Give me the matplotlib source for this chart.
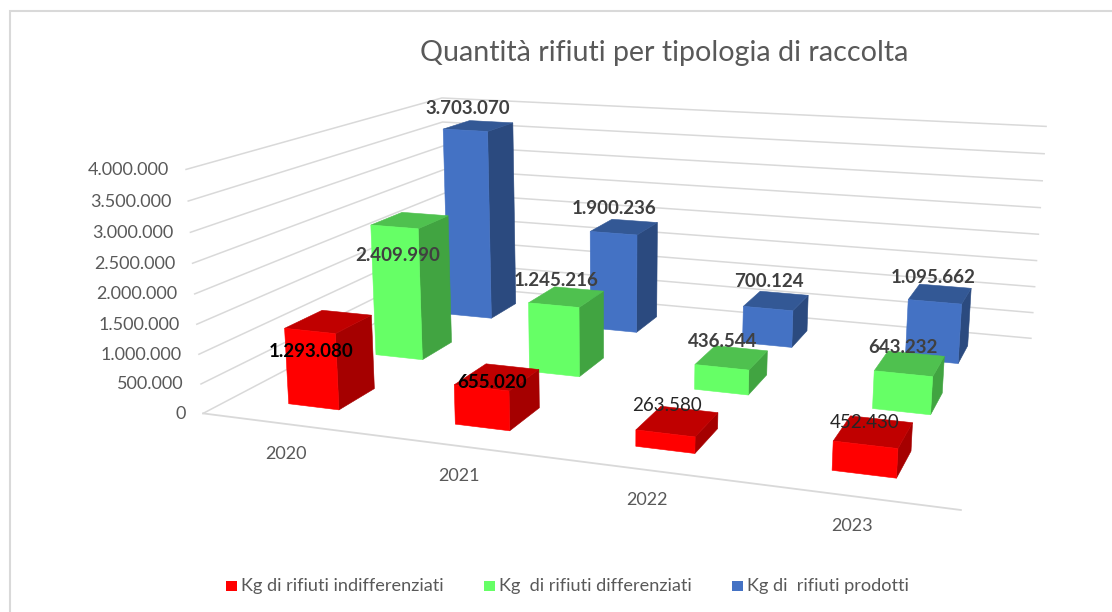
import numpy as np
import matplotlib
matplotlib.use("Agg")
import matplotlib.pyplot as plt
from matplotlib.patches import Polygon, Rectangle

plt.rcParams['font.family'] = ['Lato', 'DejaVu Sans']

# ---- data ----
categories = ['2020', '2021', '2022', '2023']
series_names = ['Kg di rifiuti indifferenziati', 'Kg  di rifiuti differenziati', 'Kg di  rifiuti prodotti']
indifferenziati = [1293080, 655020, 263580, 452430]
differenziati = [2409990, 1245216, 436544, 643232]
prodotti = [3703070, 1900236, 700124, 1095662]
value_ticks = [0, 500000, 1000000, 1500000, 2000000, 2500000, 3000000, 3500000, 4000000]
title = 'Quantità rifiuti per tipologia di raccolta'

# ---- styles ----
series_values = [indifferenziati, differenziati, prodotti]
face_colors = [('#FF0000', '#C00000', '#A50000'),
               ('#66FF66', '#4FC14F', '#41A441'),
               ('#4472C4', '#335895', '#2B4A7F')]
GRID = '#D9D9D9'
TXT = '#595959'
VMAX = 4000000
BAR_W = 0.31
BAR_D = 0.40
# label offsets from the centre of each bar top, px (series, category)
label_off = [[(-18, 30), (-5, 5), (-11, -16), (-9, -9)],
             [(-12, 35), (-10, -16), (-9, -16), (-7, -16)],
             [(-11, -17), (-10, -18), (-7, -19), (-7, -16)]]
label_style = [[('black', 'bold'), ('black', 'bold'), ('#262626', 'normal'), ('#262626', 'normal')],
               [('#404040', 'bold')] * 4,
               [('#404040', 'bold')] * 4]

# ---- perspective camera calibrated on the chart box corners ----
box = [((0, 0, 0), (203, 412)), ((1, 0, 0), (961, 511)), ((0, 1, 0), (447, 287)),
       ((1, 1, 0), (1031, 337)), ((0, 1, 1), (442, 97)), ((1, 1, 1), (1046, 127)),
       ((0, 0, 1), (186, 170))]
A, b = [], []
for (u, v, w), (x, y) in box:
    A.append([u, v, w, 1, 0, 0, 0, 0, -x * u, -x * v, -x * w]); b.append(x)
    A.append([0, 0, 0, 0, u, v, w, 1, -y * u, -y * v, -y * w]); b.append(y)
m = np.linalg.lstsq(np.array(A, float), np.array(b, float), rcond=None)[0]
M = np.append(m, 1).reshape(3, 4)


def P(u, v, w):
    q = M @ np.array([u, v, w, 1.0])
    return q[0] / q[2], q[1] / q[2]


fig = plt.figure(figsize=(11.12, 6.12), dpi=100, facecolor='white')
ax = fig.add_axes([0, 0, 1, 1])
ax.set_xlim(0, 1112)
ax.set_ylim(612, 0)
ax.axis('off')

# chart frame
ax.plot([10, 10, 1112], [612, 11, 11], color=GRID, lw=1.5, solid_joinstyle='miter')

# gridlines and value ticks
for t in value_ticks:
    w = t / VMAX
    pts = [P(0, 0, w), P(0, 1, w), P(1, 1, w)]
    ax.plot(*zip(*pts), color=GRID, lw=1.1, solid_joinstyle='miter', zorder=1)
    x, y = P(0, 0, w)
    ax.text(x - 17, y + 0.5, f'{t:,}'.replace(',', '.'), ha='right', va='center',
            fontsize=13, color=TXT)
ax.plot(*zip(P(0, 0, 0), P(1, 0, 0)), color=GRID, lw=1.3, zorder=1)

# bars, back to front
z = 2
for s in (2, 1, 0):
    v0 = (s + 0.5 - BAR_D / 2) / 3
    v1 = (s + 0.5 + BAR_D / 2) / 3
    cf, ct, cs = face_colors[s]
    for c, val in enumerate(series_values[s]):
        u0 = (c + 0.5 - BAR_W / 2) / 4
        u1 = (c + 0.5 + BAR_W / 2) / 4
        h = val / VMAX
        side = [P(u1, v0, 0), P(u1, v1, 0), P(u1, v1, h), P(u1, v0, h)]
        top = [P(u0, v0, h), P(u1, v0, h), P(u1, v1, h), P(u0, v1, h)]
        front = [P(u0, v0, 0), P(u1, v0, 0), P(u1, v0, h), P(u0, v0, h)]
        for poly, col in ((side, cs), (top, ct), (front, cf)):
            ax.add_patch(Polygon(poly, closed=True, facecolor=col, edgecolor=col, lw=0.4, zorder=z))
        z += 0.01

# data labels
for s in range(3):
    v = (s + 0.5) / 3
    for c, val in enumerate(series_values[s]):
        x, y = P((c + 0.5) / 4, v, val / VMAX)
        dx, dy = label_off[s][c]
        col, wt = label_style[s][c]
        ax.text(x + dx, y + dy, f'{val:,}'.replace(',', '.'), ha='center', va='center',
                fontsize=13.5, color=col, fontweight=wt, zorder=10)

# category labels
for c, name in enumerate(categories):
    x, y = P((c + 0.5) / 4, 0, 0)
    ax.text(x + 1, y + 30, name, ha='center', va='center', fontsize=13, color=TXT)

# title
ax.text(664, 53, title, ha='center', va='center', fontsize=20.6, color=TXT)

# legend
leg_x = [226, 484, 732]
for x0, name, (cf, _, _) in zip(leg_x, series_names, face_colors):
    ax.add_patch(Rectangle((x0, 581), 11, 10, facecolor=cf, edgecolor='none'))
    ax.text(x0 + 15, 586, name, ha='left', va='center', fontsize=13.1, color=TXT)

fig.savefig('out.png', dpi=100)
